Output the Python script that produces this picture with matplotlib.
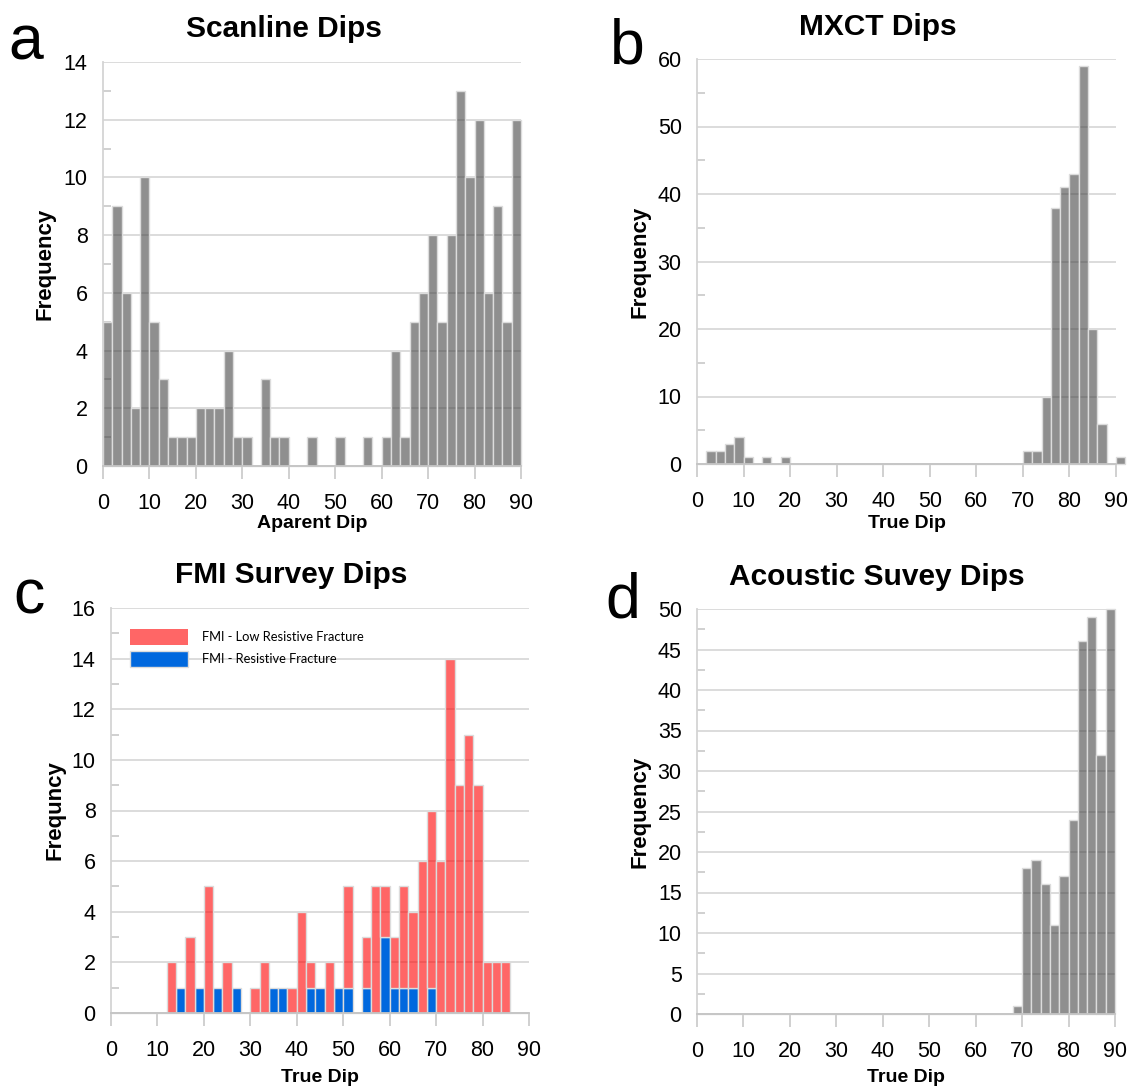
import numpy as np
import matplotlib
matplotlib.use("Agg")
import matplotlib.pyplot as plt

plt.rcParams['font.family'] = ['Liberation Sans', 'DejaVu Sans']

# 2-degree dip bins, counts per bin
scan_counts = [5, 9, 6, 2, 10, 5, 3, 1, 1, 1, 2, 2, 2, 4, 1, 1, 0, 3, 1, 1, 0, 0, 1,
               0, 0, 1, 0, 0, 1, 0, 1, 4, 1, 5, 6, 8, 5, 8, 13, 10, 12, 6, 9, 5, 12]

mxct_counts = [0, 2, 2, 3, 4, 1, 0, 1, 0, 1,
               0, 0, 0, 0, 0, 0, 0, 0, 0, 0, 0, 0, 0, 0, 0, 0, 0, 0, 0, 0, 0, 0, 0, 0, 0,
               2, 2, 10, 38, 41, 43, 59, 20, 6, 0, 1]

fmi_low_res = [0, 0, 0, 0, 0, 0, 2, 0, 3, 0, 5, 0, 2, 0, 0, 1, 2, 0, 0, 1, 4, 1, 0,
               2, 0, 4, 0, 2, 5, 2, 2, 4, 3, 6, 7, 6, 14, 9, 11, 9, 2, 2, 2, 0, 0]
fmi_res = [0, 0, 0, 0, 0, 0, 0, 1, 0, 1, 0, 1, 0, 1, 0, 0, 0, 1, 1, 0, 0, 1, 1,
           0, 1, 1, 0, 1, 0, 3, 1, 1, 1, 0, 1, 0, 0, 0, 0, 0, 0, 0, 0, 0, 0]

acoustic_counts = [0, 0, 0, 0, 0, 0, 0, 0, 0, 0, 0, 0, 0, 0, 0, 0, 0,
                   0, 0, 0, 0, 0, 0, 0, 0, 0, 0, 0, 0, 0, 0, 0, 0, 0,
                   1, 18, 19, 16, 11, 17, 24, 46, 49, 32, 50]

titles = ["Scanline Dips", "MXCT Dips", "FMI Survey Dips", "Acoustic Suvey Dips"]
xlabels = ["Aparent Dip", "True Dip", "True Dip", "True Dip"]
ylabels = ["Frequency", "Frequency", "Frequncy", "Frequency"]
letters = ["a", "b", "c", "d"]
legend_labels = ["FMI - Low Resistive Fracture", "FMI - Resistive Fracture"]

W, H = 1131, 1091
fig = plt.figure(figsize=(W / 100, H / 100), dpi=100)

GRAY = (0.23, 0.23, 0.23, 0.57)
RED = (1.0, 0.0, 0.0, 0.6)
BLUE = '#0068de'
EDGE = '#dcdcdc'


def axes_px(l, t, r, b):
    return fig.add_axes([l / W, 1 - b / H, (r - l) / W, (b - t) / H])


def txt(x, y, s, **kw):
    fig.text(x / W, 1 - y / H, s, **kw)


def style(ax, ymax, ystep):
    ax.set_xlim(0, 90)
    ax.set_ylim(0, ymax)
    ax.set_xticks(np.arange(0, 91, 10))
    ax.set_yticks(np.arange(0, ymax + 1, ystep))
    ax.set_yticks(np.arange(ystep / 2, ymax, ystep), minor=True)
    ax.grid(axis='y', which='major', color='#d9d9d9', lw=1.3)
    ax.set_axisbelow(True)
    for s in ['top', 'right']:
        ax.spines[s].set_visible(False)
    ax.spines['left'].set_color('#d4d4d4')
    ax.spines['bottom'].set_color('#c4c4c4')
    ax.spines['left'].set_linewidth(1.3)
    ax.spines['bottom'].set_linewidth(1.3)
    ax.tick_params(axis='x', which='major', length=9.5, width=1.1, color='#c4c4c4',
                   pad=10, labelsize=15.5)
    ax.tick_params(axis='y', which='major', length=0, pad=11, labelsize=15.5)
    ax.tick_params(axis='y', which='minor', direction='in', length=6, width=1.1,
                   color='#c4c4c4')


def hist(ax, counts, **kw):
    edges = np.arange(len(counts)) * 2
    return ax.bar(edges, counts, width=2, align='edge', edgecolor=EDGE, lw=1,
                  clip_on=False, **kw)


# panel boxes in pixels: left, top, right, bottom
boxes = [(103, 62, 521, 466), (697, 59, 1116, 464),
         (111, 608, 529, 1013), (697, 609, 1115, 1014)]
axs = [axes_px(*b) for b in boxes]

hist(axs[0], scan_counts, color=GRAY)
style(axs[0], 14, 2)

hist(axs[1], mxct_counts, color=GRAY)
style(axs[1], 60, 10)

ax = axs[2]
res = np.array(fmi_res)
low = np.array(fmi_low_res)
hist(ax, res, color=BLUE, label=legend_labels[1])
edges = np.arange(len(low)) * 2
ax.bar(edges, low, width=2, align='edge', bottom=res, color=RED,
       edgecolor=EDGE, lw=np.where(low > 0, 1, 0), label=legend_labels[0])
style(ax, 16, 2)
h, l = ax.get_legend_handles_labels()
ax.legend(h[::-1], l[::-1], loc='upper left', bbox_to_anchor=(130 / W, 1 - 629 / H),
          bbox_transform=fig.transFigure, frameon=False, borderpad=0, borderaxespad=0,
          handlelength=4.5, handleheight=1.5, handletextpad=1.1, labelspacing=0.5,
          prop={'family': ['Lato', 'DejaVu Sans'], 'size': 9.3})

hist(axs[3], acoustic_counts, color=GRAY)
style(axs[3], 50, 5)

title_pos = [(284, 37), (878, 35), (291, 583), (877, 585)]
letter_pos = [(8, 59), (610, 64), (13, 614), (605, 617)]
ylab_x = [45, 640, 55, 640]
xlab_y = [524, 524, 1077, 1077]

for i, (l, t, r, b) in enumerate(boxes):
    tx, ty = title_pos[i]
    txt(tx, ty, titles[i], ha='center', va='baseline', fontsize=21.5, fontweight='bold')
    lx, ly = letter_pos[i]
    txt(lx, ly, letters[i], ha='left', va='baseline', fontsize=45)
    txt(ylab_x[i], (t + b) / 2, ylabels[i], ha='center', va='center', rotation=90,
        fontsize=16, fontweight='bold')
    txt((l + r) / 2, xlab_y[i], xlabels[i], ha='center', va='center',
        fontsize=14, fontweight='bold')

fig.savefig('out.png', dpi=100)
